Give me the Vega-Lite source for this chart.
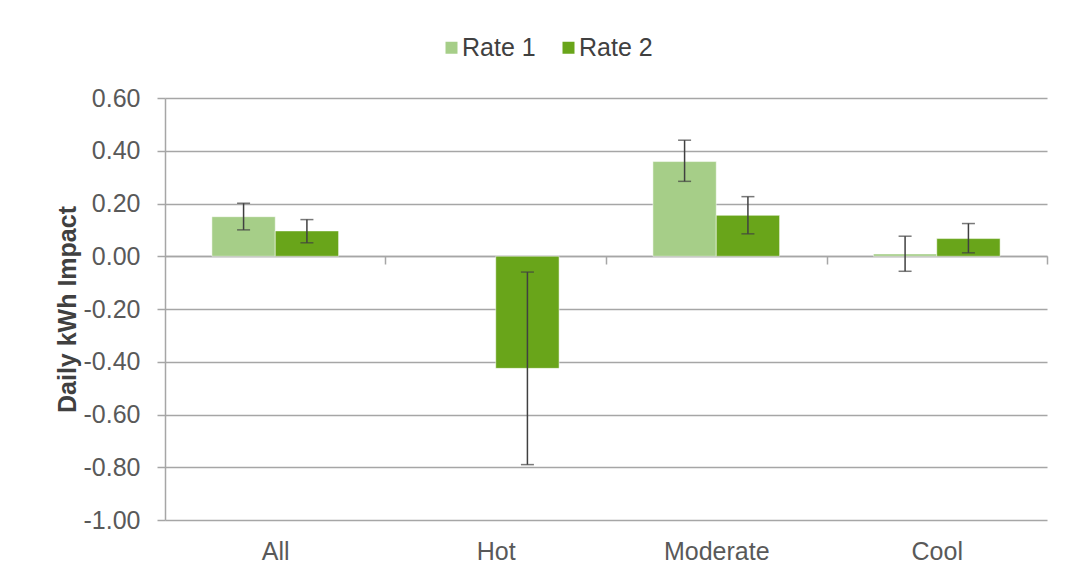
{
  "$schema": "https://vega.github.io/schema/vega-lite/v6.json",
  "width": 882,
  "height": 422,
  "autosize": {"type": "none"},
  "padding": {"left": 165, "top": 98, "right": 18, "bottom": 62},
  "background": "white",
  "config": {
    "font": "Liberation Sans",
    "view": {"stroke": null}
  },
  "data": {
    "values": [
      {"region": "All", "series": "Rate 1", "value": 0.150, "lo": 0.100, "hi": 0.201},
      {"region": "All", "series": "Rate 2", "value": 0.096, "lo": 0.051, "hi": 0.139},
      {"region": "Hot", "series": "Rate 2", "value": -0.425, "lo": -0.790, "hi": -0.060},
      {"region": "Moderate", "series": "Rate 1", "value": 0.359, "lo": 0.284, "hi": 0.440},
      {"region": "Moderate", "series": "Rate 2", "value": 0.155, "lo": 0.085, "hi": 0.226},
      {"region": "Cool", "series": "Rate 1", "value": 0.009, "lo": -0.057, "hi": 0.076},
      {"region": "Cool", "series": "Rate 2", "value": 0.067, "lo": 0.013, "hi": 0.124}
    ]
  },
  "encoding": {
    "x": {
      "field": "region",
      "type": "nominal",
      "sort": ["All", "Hot", "Moderate", "Cool"],
      "scale": {"paddingInner": 0.4255, "paddingOuter": 0.2127},
      "axis": {
        "title": null,
        "orient": "bottom",
        "offset": -264,
        "domain": true,
        "domainColor": "#a6a6a6",
        "domainWidth": 1.5,
        "ticks": true,
        "bandPosition": 0.5,
        "tickOffset": 110.25,
        "labelOffset": -110.25,
        "tickSize": 8,
        "tickColor": "#a6a6a6",
        "tickWidth": 1.5,
        "labelFontSize": 25,
        "labelColor": "#595959",
        "labelPadding": 275,
        "labelAngle": 0,
        "grid": false
      }
    },
    "xOffset": {
      "field": "series",
      "type": "nominal",
      "scale": {"domain": ["Rate 1", "Rate 2"], "paddingInner": 0, "paddingOuter": 0}
    }
  },
  "layer": [
    {
      "mark": {"type": "bar", "stroke": "#ffffff", "strokeWidth": 0.5},
      "encoding": {
        "y": {
          "field": "value",
          "type": "quantitative",
          "scale": {"domain": [-1, 0.6], "nice": false, "zero": false},
          "axis": {
            "title": "Daily kWh Impact",
            "values": [-1, -0.8, -0.6, -0.4, -0.2, 0, 0.2, 0.4, 0.6],
            "labelExpr": "replace(format(datum.value, '.2f'), '\u2212', '-')",
            "grid": true,
            "gridColor": "#a6a6a6",
            "gridWidth": 1.5,
            "domain": true,
            "domainColor": "#a6a6a6",
            "domainWidth": 1.5,
            "ticks": true,
            "tickSize": 8,
            "tickColor": "#a6a6a6",
            "tickWidth": 1.5,
            "labelFontSize": 25,
            "labelColor": "#595959",
            "labelPadding": 17,
            "titleFontSize": 25,
            "titleFontWeight": "bold",
            "titleColor": "#404040",
            "titlePadding": 3
          }
        },
        "color": {
          "field": "series",
          "type": "nominal",
          "scale": {"domain": ["Rate 1", "Rate 2"], "range": ["#a6ce88", "#69a51a"]},
          "legend": {
            "title": null,
            "orient": "none",
            "direction": "horizontal",
            "legendX": 274,
            "legendY": -63,
            "symbolType": "square",
            "symbolSize": 144,
            "symbolStrokeWidth": 0,
            "labelFontSize": 25,
            "labelColor": "#404040",
            "labelOffset": -2,
            "columnPadding": 20
          }
        }
      }
    },
    {
      "mark": {"type": "rule", "color": "#404040", "strokeWidth": 1.5},
      "encoding": {
        "y": {"field": "lo", "type": "quantitative"},
        "y2": {"field": "hi"}
      }
    },
    {
      "mark": {"type": "tick", "color": "#404040", "size": 13, "thickness": 1.5},
      "encoding": {"y": {"field": "lo", "type": "quantitative"}}
    },
    {
      "mark": {"type": "tick", "color": "#404040", "size": 13, "thickness": 1.5},
      "encoding": {"y": {"field": "hi", "type": "quantitative"}}
    }
  ]
}
